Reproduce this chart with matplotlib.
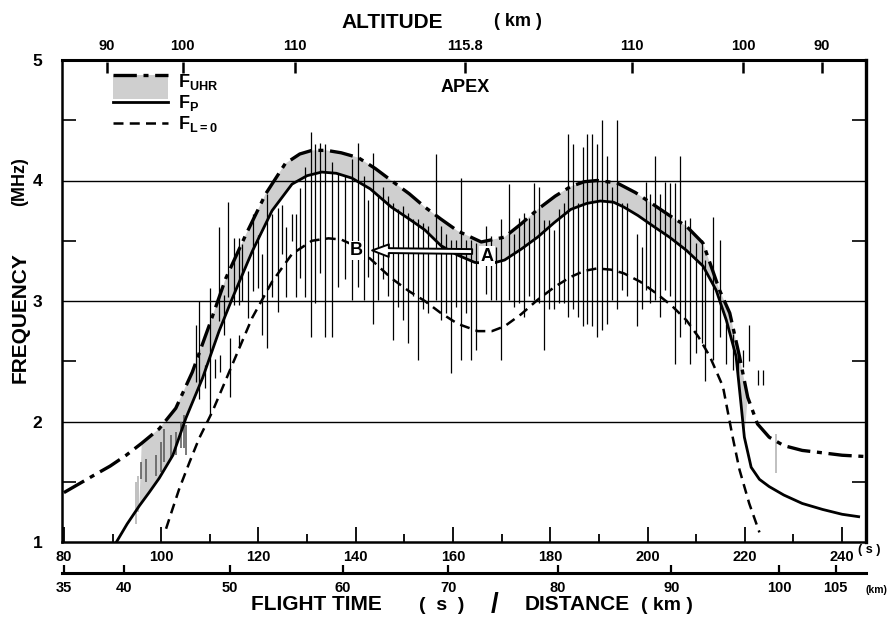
import numpy as np
import matplotlib
matplotlib.use("Agg")
import matplotlib.pyplot as plt
from matplotlib.patches import Patch, FancyArrowPatch, Rectangle
from matplotlib.lines import Line2D
from matplotlib.legend_handler import HandlerBase

plt.rcParams['font.family'] = ['Liberation Sans', 'DejaVu Sans']
plt.rcParams['font.weight'] = 'bold'
plt.rcParams['mathtext.fontset'] = 'custom'
plt.rcParams['mathtext.rm'] = 'Liberation Sans:bold'
plt.rcParams['mathtext.default'] = 'rm'

# ---------------- data ----------------
# plasma frequency F_P (solid)
fp_t = [90.8, 93, 95.5, 97.5, 99.6, 102.4, 105.1, 108.5, 111.9, 114.6, 118.7, 122.8, 126.9, 130,
        133.0, 136, 139.2, 143, 147.3, 151, 154.2, 157.5, 161, 164.5, 167.8, 170.6, 174, 177.4,
        180.8, 184.2, 187.5, 190.3, 193, 195.1, 198, 201.2, 204.5, 208.0, 211.4, 214.1, 216.2,
        218.2, 219.2, 219.9, 221.3, 223, 225.0, 228, 231.8, 236, 240, 243.4]
fp_f = [1.0, 1.15, 1.30, 1.41, 1.53, 1.72, 2.03, 2.36, 2.75, 3.02, 3.41, 3.75, 3.97, 4.04,
        4.07, 4.06, 4.02, 3.93, 3.78, 3.68, 3.59, 3.46, 3.38, 3.32, 3.31, 3.34, 3.43, 3.53,
        3.65, 3.76, 3.81, 3.83, 3.82, 3.78, 3.71, 3.62, 3.53, 3.42, 3.29, 3.09, 2.84,
        2.54, 2.15, 1.87, 1.62, 1.52, 1.46, 1.39, 1.32, 1.27, 1.23, 1.21]

# upper hybrid frequency F_UHR (dash-dot)
fuhr_t = [80, 83, 86, 89.5, 92.8, 96, 99.6, 103, 106.4, 109.9, 113.3, 117.4, 121.5, 125.5,
          128.5, 131, 134, 137, 140.5, 144, 147.3, 151, 154.2, 157.5, 161, 165.8, 170.6, 174,
          177.4, 181, 184.2, 187, 189.6, 193.7, 197.5, 201.2, 204.5, 208, 211.4, 214.8, 216.9,
          218.9, 220.6, 222.6, 225, 228, 231.8, 236, 240, 244.5]
fuhr_f = [1.41, 1.48, 1.55, 1.63, 1.72, 1.82, 1.94, 2.11, 2.41, 2.80, 3.19, 3.55, 3.89, 4.14,
          4.22, 4.25, 4.25, 4.23, 4.19, 4.10, 4.0, 3.89, 3.78, 3.68, 3.58, 3.49, 3.53, 3.64,
          3.76, 3.87, 3.95, 3.99, 4.0, 3.98, 3.90, 3.80, 3.71, 3.62, 3.48, 3.09, 2.90,
          2.54, 2.20, 1.98, 1.87, 1.80, 1.76, 1.74, 1.72, 1.71]

# F_L=0 (dashed)
fl0_t = [101, 102.3, 103.7, 105.8, 107.8, 110.5, 114.6, 118.7, 122.8, 126.9, 131, 134.4, 137,
         139.2, 143, 147.3, 151, 154.2, 157.5, 161, 165.1, 168, 170.6, 174, 177.4, 181, 184.2,
         187, 189.6, 192.5, 195.1, 198.5, 201.9, 205, 208, 210.5, 212.8, 215.5, 217.5, 218.9,
         220.9, 223]
fl0_f = [1.11, 1.27, 1.44, 1.66, 1.86, 2.08, 2.47, 2.86, 3.16, 3.39, 3.50, 3.52, 3.51,
         3.47, 3.35, 3.19, 3.08, 3.0, 2.90, 2.81, 2.75, 2.75, 2.79, 2.89, 3.01, 3.12, 3.20,
         3.25, 3.27, 3.26, 3.23, 3.16, 3.06, 2.96, 2.84, 2.70, 2.54, 2.29, 1.87, 1.60,
         1.32, 1.08]

# grey shaded band limits (time)
band_start, band_end = 95.0, 221.0

# observed emission bands (grey, early)
obs_grey_t  = [95.9, 96.9, 98.95, 99.97, 100.6, 102.0, 103.0, 104.0, 104.7, 105.2]
obs_grey_lo = [1.52, 1.50, 1.55, 1.58, 1.66, 1.69, 1.72, 1.78, 1.78, 1.72]
obs_grey_hi = [1.66, 1.69, 1.72, 1.83, 1.94, 1.89, 1.91, 2.00, 2.05, 1.97]

# observed emission bands (black)
obs_t = [107.1, 107.8, 109.0, 110.1, 111.1, 111.8, 112.0, 112.9, 113.8, 114.1, 115.0, 115.9,
         116.0, 116.7, 117.9, 118.9, 120.0, 120.8, 121.8, 122.8, 124.0, 124.9, 125.7, 126.8,
         127.7, 128.6, 129.6,
         130.7, 131.7, 132.7, 133.7, 135.1, 136.4, 137.8, 139.2, 140.5, 141.6, 142.6, 143.6,
         144.6, 145.7, 146.7, 147.7, 148.7, 149.8, 150.8, 151.8, 152.8, 153.8, 154.8, 156.6,
         157.6, 158.6, 159.6, 160.6, 161.7, 162.7, 163.7, 164.7, 166.8, 167.8, 168.8, 169.8,
         171.5, 172.5,
         173.6, 174.6, 175.7, 176.7, 177.7, 178.7, 179.7, 180.8, 181.8, 182.8, 183.7, 184.7,
         185.7, 186.7, 187.6, 188.6, 189.6, 190.6, 191.7, 192.7, 193.7, 194.7, 195.7, 197.8,
         198.8, 199.7, 200.5, 201.5, 202.5, 203.6, 204.6, 205.6, 206.6, 207.7, 208.7, 210.0,
         211.1, 211.9, 213.4, 214.8, 216.2, 217.5, 218.5, 219.6, 220.8, 222.8, 223.8]
obs_lo = [2.33, 2.19, 2.28, 2.05, 2.36, 2.83, 2.41, 2.72, 3.03, 2.20, 2.97, 2.97,
          2.61, 3.00, 2.86, 3.08, 3.11, 2.72, 2.61, 3.03, 2.91, 3.39, 3.03, 3.50,
          3.03, 3.19, 3.03,
          2.70, 2.98, 3.23, 2.70, 2.70, 3.12, 3.18, 3.01, 3.12, 3.01, 3.20, 2.81,
          3.01, 3.18, 3.04, 2.68, 2.95, 2.84, 2.65, 3.04, 2.51, 2.93, 2.90, 3.01,
          2.84, 2.90, 2.40, 2.95, 2.51, 2.90, 2.51, 2.59, 3.06, 3.01, 3.01, 2.51,
          3.01, 2.95,
          2.98, 2.87, 3.04, 3.01, 2.98, 2.59, 2.93, 2.93, 2.98, 2.98, 2.87, 2.93,
          2.87, 2.79, 2.81, 2.79, 2.70, 2.76, 2.81, 3.01, 2.93, 3.09, 3.04, 2.79,
          2.93, 3.09, 2.98, 3.01, 2.87, 3.09, 3.04, 2.48, 2.70, 2.81, 2.48, 2.57,
          2.65, 2.34, 2.51, 2.70, 2.48, 2.43, 2.40, 2.45, 2.50, 2.30, 2.30]
obs_hi = [2.80, 3.00, 2.47, 3.11, 2.52, 3.61, 2.55, 3.05, 3.82, 2.69, 3.52, 3.52,
          2.72, 3.47, 3.25, 3.72, 3.55, 3.39, 3.89, 3.72, 3.77, 3.80, 3.61, 3.72,
          3.72, 3.94, 4.11,
          4.40, 4.30, 4.31, 4.30, 4.15, 4.06, 4.04, 4.18, 4.31, 4.04, 3.84, 4.23,
          3.87, 3.95, 3.87, 3.81, 3.76, 3.79, 3.73, 3.68, 3.68, 3.65, 3.62, 4.22,
          3.62, 3.56, 3.51, 3.51, 4.02, 3.51, 3.51, 3.48, 3.62, 3.54, 3.45, 3.68,
          3.97, 3.56,
          3.69, 3.73, 3.69, 3.98, 3.95, 3.67, 3.67, 3.59, 3.76, 3.81, 4.39, 4.30,
          3.81, 4.28, 4.39, 4.39, 4.30, 4.50, 4.20, 3.95, 4.50, 3.81, 3.81, 3.56,
          3.45, 3.99, 3.89, 4.20, 3.89, 3.99, 3.98, 3.98, 4.20, 3.67, 3.69, 3.48,
          3.51, 3.34, 3.70, 3.51, 2.81, 2.73, 2.59, 2.59, 2.80, 2.43, 2.43]

# faint traces
faint_t  = [94.8, 95.3, 226.5]
faint_lo = [1.15, 1.25, 1.57]
faint_hi = [1.50, 1.55, 1.90]

# axes tick values
time_ticks = [80, 100, 120, 140, 160, 180, 200, 220, 240]
alt_pos = [88.8, 104.4, 127.5, 162.5, 196.7, 219.6, 235.9]
alt_lab = ['90', '100', '110', '115.8', '110', '100', '90']
dist_pos = [80, 92.3, 114.2, 137.3, 159, 181.6, 204.9, 227, 238.7]
dist_lab = ['35', '40', '50', '60', '70', '80', '90', '100', '105']
freq_ticks = [1, 2, 3, 4, 5]
grid_levels = [2, 3, 4]

# point A / B
A_t, A_f = 166.9, 3.37
B_t, B_f = 140.2, 3.42
apex_t = 162.5

BAND = '#cfcfcf'
DASHDOT = (0, (7, 2, 1.5, 2))
DASHED = (0, (4, 2.5))


class HandlerBand(HandlerBase):
    """Legend key: shaded band with a dash-dot line on its upper edge."""
    def create_artists(self, legend, orig_handle, xdescent, ydescent, width, height,
                       fontsize, trans):
        top_y = -ydescent + height * 0.95
        bot_y = -ydescent + height * 0.5 - 13.0
        r = Rectangle((-xdescent, bot_y), width, top_y - bot_y, facecolor=BAND,
                      edgecolor='none', transform=trans)
        ln = Line2D([-xdescent, -xdescent + width], [top_y, top_y], color='black', lw=2.4,
                    ls=DASHDOT, transform=trans)
        return [r, ln]


# ---------------- plot ----------------
fig = plt.figure(figsize=(8.93, 6.25), dpi=100)
ax = fig.add_axes([0.0694, 0.1328, 0.9003, 0.7712])
ax.set_xlim(79.6, 244.9)
ax.set_ylim(1, 5)

for g in grid_levels:
    ax.axhline(g, color='black', lw=1.0, zorder=1.5)

# shaded band between F_P and F_UHR
ut = np.array(fuhr_t); uf = np.array(fuhr_f)
pt = np.array(fp_t); pf = np.array(fp_f)
mu = (ut >= band_start) & (ut <= band_end)
mp = (pt >= band_start) & (pt <= band_end)
poly_t = np.concatenate([ut[mu], pt[mp][::-1]])
poly_f = np.concatenate([uf[mu], pf[mp][::-1]])
ax.fill(poly_t, poly_f, color=BAND, lw=0, zorder=1)

ax.vlines(faint_t, faint_lo, faint_hi, color='#b5b5b5', lw=1.2, zorder=1.2)
ax.vlines(obs_grey_t, obs_grey_lo, obs_grey_hi, color='#555555', lw=1.1, zorder=2)
ax.vlines(obs_t, obs_lo, obs_hi, color='black', lw=0.9, zorder=2)

ax.plot(fuhr_t, fuhr_f, color='black', lw=2.4, ls=DASHDOT, zorder=3)
ax.plot(fp_t, fp_f, color='black', lw=2.0, zorder=3)
ax.plot(fl0_t, fl0_f, color='black', lw=1.8, ls=DASHED, zorder=3)

# arrow A -> B
arr = FancyArrowPatch((A_t - 2.4, A_f + 0.04), (B_t + 2.6, B_f),
                      arrowstyle='simple,head_length=1.2,head_width=0.9,tail_width=0.35',
                      mutation_scale=10, facecolor='white', edgecolor='black', lw=1.4, zorder=5)
ax.add_patch(arr)
ax.text(A_t, A_f, 'A', fontsize=13, fontweight='bold', ha='center', va='center', zorder=6,
        bbox=dict(facecolor='white', edgecolor='none', pad=1.0))
ax.text(B_t, B_f, 'B', fontsize=13, fontweight='bold', ha='center', va='center', zorder=6,
        bbox=dict(facecolor='white', edgecolor='none', pad=0.5))
ax.text(apex_t, 4.77, 'APEX', fontsize=13, fontweight='bold', ha='center', va='center')

# legend
h_uhr = Patch(facecolor=BAND)
h_p = Line2D([], [], color='black', lw=2.0)
h_l0 = Line2D([], [], color='black', lw=1.8, ls=DASHED)
leg = ax.legend([h_uhr, h_p, h_l0], [r'F$_{UHR}$', r'F$_{P}$', r'F$_{L=0}$'],
                handler_map={Patch: HandlerBand()},
                loc='upper left', bbox_to_anchor=(0.046, 1.005), frameon=False,
                fontsize=13, handlelength=3.0, handletextpad=0.6, labelspacing=0.05,
                borderpad=0.3)

# spines / ticks
for s in ax.spines.values():
    s.set_linewidth(1.8)
ax.spines['right'].set_linewidth(2.4)
ax.spines['top'].set_linewidth(2.2)
ax.set_xticks(time_ticks)
ax.set_xticks(np.arange(90, 245, 20), minor=True)
ax.set_xticklabels([str(v) for v in time_ticks])
ax.tick_params(axis='x', which='major', direction='in', length=11, width=1.3,
               labelsize=10.5, pad=6)
ax.tick_params(axis='x', which='minor', direction='in', length=6, width=1.3)
ax.set_yticks(freq_ticks)
ax.set_yticks([1.5, 2.5, 3.5, 4.5], minor=True)
ax.tick_params(axis='y', which='major', length=0, labelsize=12.5, pad=14)
ax.tick_params(axis='y', which='minor', direction='in', length=10, width=1.2,
               left=True, right=True)
ax.text(243.2, 0.935, '( s )', fontsize=9, ha='left', va='center',
        transform=ax.transData, clip_on=False)

# top altitude axis (labels) + inward tick marks at altitude positions
top = ax.secondary_xaxis('top')
top.set_xticks(alt_pos)
top.set_xticklabels(alt_lab)
top.tick_params(axis='x', length=0, labelsize=10.5, pad=5)
top.spines['top'].set_visible(False)
ax.vlines(alt_pos, 0.972, 0.995, transform=ax.get_xaxis_transform(), color='black',
          lw=1.8, zorder=6, clip_on=False)

# distance axis below
dist = ax.secondary_xaxis(-0.064)
dist.set_xticks(dist_pos)
dist.set_xticklabels(dist_lab)
dist.tick_params(axis='x', direction='in', length=6, width=1.6, labelsize=10.5, pad=6)
dist.spines['bottom'].set_linewidth(2.2)
ax.text(1.0, -0.1, '(km)', fontsize=7.5, ha='left', va='center',
        transform=ax.transAxes, clip_on=False)

# axis titles
fig.text(443 / 893, 1 - 22 / 625, 'ALTITUDE', fontsize=15, fontweight='bold',
         ha='right', va='center')
fig.text(518 / 893, 1 - 22 / 625, '( km )', fontsize=13, fontweight='bold',
         ha='center', va='center')
yb = 1 - 605 / 625
fig.text(316 / 893, yb, 'FLIGHT TIME', fontsize=15, fontweight='bold', ha='center', va='center')
fig.text(442 / 893, yb, '(  s  )', fontsize=14, fontweight='bold', ha='center', va='center')
fig.text(495 / 893, yb, '/', fontsize=20, fontweight='bold', ha='center', va='center')
fig.text(577 / 893, yb, 'DISTANCE', fontsize=15, fontweight='bold', ha='center', va='center')
fig.text(667 / 893, yb, '( km )', fontsize=14, fontweight='bold', ha='center', va='center')
fig.text(20 / 893, 1 - 318 / 625, 'FREQUENCY', fontsize=15, fontweight='bold',
         rotation=90, ha='center', va='center')
fig.text(20 / 893, 1 - 182 / 625, '(MHz)', fontsize=13, fontweight='bold',
         rotation=90, ha='center', va='center')

fig.savefig('out.png', dpi=100)
